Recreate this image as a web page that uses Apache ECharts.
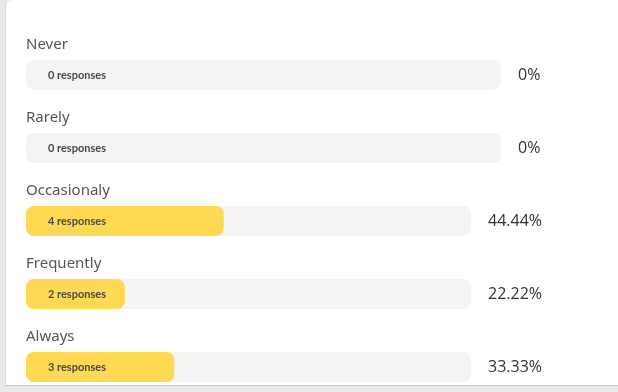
<!DOCTYPE html>
<html>
<head>
<meta charset="utf-8">
<script src="https://cdn.jsdelivr.net/npm/echarts@6/dist/echarts.min.js"></script>
<style>
  html, body { margin: 0; padding: 0; width: 618px; height: 392px; overflow: hidden; background: #e9e9e9; }
  #card { position: absolute; left: 5px; top: 0; width: 700px; height: 385px; background: #fff;
          border-left: 1px solid #d3d7f2; border-bottom: 1px solid #c4c4c4; border-top-left-radius: 6px; }
  #chart { position: absolute; left: 0; top: 0; width: 618px; height: 392px; }
</style>
</head>
<body>
<div id="card"></div>
<div id="chart"></div>
<script>
const categories = ['Never', 'Rarely', 'Occasionaly', 'Frequently', 'Always'];
const responses = [0, 0, 4, 2, 3];
const percents = [0, 0, 44.44, 22.22, 33.33];
const percentLabels = ['0%', '0%', '44.44%', '22.22%', '33.33%'];

const groups = [[0, 2], [2, 5]];
const gridDefs = [
  { left: 26, width: 475, top: 75, height: 73 },
  { left: 26, width: 445, top: 221, height: 146 }
];

const grid = [], xAxis = [], yAxis = [], series = [];
groups.forEach(function (g, gi) {
  const cats = categories.slice(g[0], g[1]);
  const vals = percents.slice(g[0], g[1]);
  const resp = responses.slice(g[0], g[1]);
  const pl = percentLabels.slice(g[0], g[1]);
  grid.push(gridDefs[gi]);
  xAxis.push({ type: 'value', gridIndex: gi, min: 0, max: 100, show: false });
  yAxis.push({
    type: 'category', gridIndex: gi, data: cats, inverse: true, position: 'left', boundaryGap: false,
    axisLine: { show: false }, axisTick: { show: false }, axisLabel: { show: false }, splitLine: { show: false }
  });
  yAxis.push({
    type: 'category', gridIndex: gi, data: pl, inverse: true, position: 'right', boundaryGap: false,
    axisLine: { show: false }, axisTick: { show: false }, splitLine: { show: false },
    axisLabel: {
      margin: 17, align: 'left', fontFamily: 'Open Sans', fontSize: 16, color: '#333'
    }
  });
  series.push({
    type: 'bar', xAxisIndex: gi, yAxisIndex: gi * 2, data: vals, barWidth: 30, barGap: '-100%',
    itemStyle: { color: '#ffd952', borderRadius: 8 },
    showBackground: true,
    backgroundStyle: { color: '#f4f4f4', borderRadius: 8 },
    label: {
      show: true, position: 'insideLeft', distance: 22,
      fontFamily: 'Lato', fontSize: 11, fontWeight: 'bold', color: '#4a4a4a',
      formatter: function (p) { return resp[p.dataIndex] + ' responses'; }
    },
    silent: true, animation: false
  });
  series.push({
    type: 'bar', xAxisIndex: gi, yAxisIndex: gi * 2, data: cats.map(function () { return 0; }),
    barWidth: 30, barGap: '-100%',
    itemStyle: { color: 'rgba(0,0,0,0)' },
    label: {
      show: true, position: [0, -15], align: 'left', verticalAlign: 'middle',
      fontFamily: 'Noto Sans', fontSize: 15, color: '#555',
      formatter: function (p) { return cats[p.dataIndex]; }
    },
    silent: true, animation: false
  });
});

const chart = echarts.init(document.getElementById('chart'), null, { renderer: 'canvas' });
chart.setOption({ animation: false, grid: grid, xAxis: xAxis, yAxis: yAxis, series: series });
</script>
</body>
</html>
